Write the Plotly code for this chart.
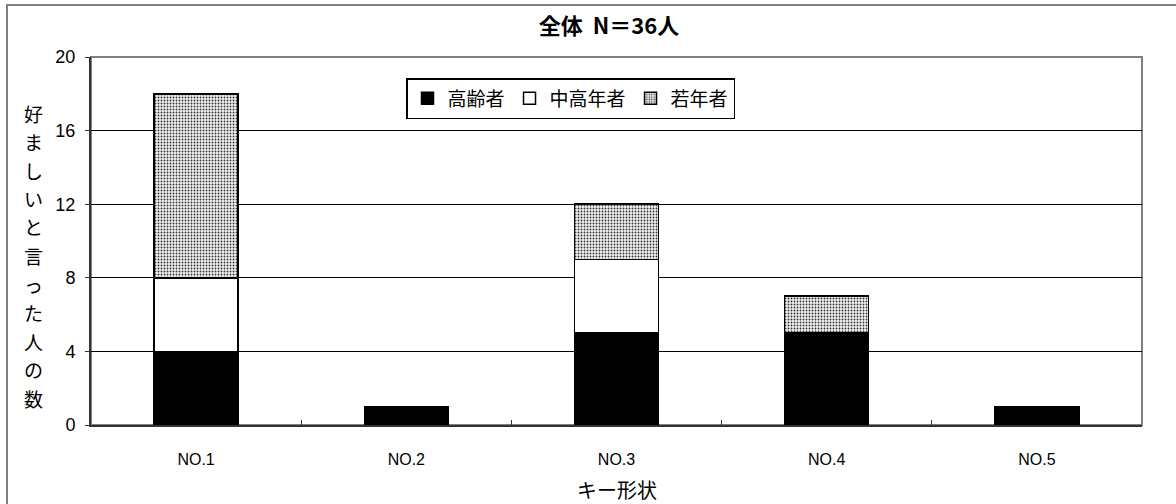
import plotly.graph_objects as go

# Data: number of people who preferred each key shape, by age group
categories = ["NO.1", "NO.2", "NO.3", "NO.4", "NO.5"]
elderly = [4, 1, 5, 5, 1]        # 高齢者
middle_aged = [4, 0, 4, 0, 0]    # 中高年者
young = [10, 0, 3, 2, 0]         # 若年者
y_ticks = [0, 4, 8, 12, 16, 20]

title_text = "全体&nbsp;&nbsp;N＝36人"
x_title = "キー形状"
y_title = "好ましいと言った人の数"

FONT = "Noto Sans CJK JP"

fig = go.Figure()
fig.add_trace(go.Bar(
    x=categories, y=elderly, name="高齢者",
    marker=dict(color="black", line=dict(color="black", width=1.5)),
))
fig.add_trace(go.Bar(
    x=categories, y=middle_aged, name="中高年者",
    marker=dict(color="white", line=dict(color="black", width=1.5)),
))
fig.add_trace(go.Bar(
    x=categories, y=young, name="若年者",
    marker=dict(
        color="white",
        line=dict(color="black", width=1.5),
        pattern=dict(shape=".", size=3, solidity=0.3,
                     fgcolor="#333333", bgcolor="#f2f2f2", fillmode="replace"),
    ),
))

W, H = 1176, 504
L, R, T, B = 91, 34, 57, 79
pw, ph = W - L - R, H - T - B

def px_x(p):
    return (p - L) / pw

def px_y(p):
    return 1 - (p - T) / ph

shapes = [
    # outer chart frame
    dict(type="rect", xref="paper", yref="paper",
         x0=px_x(7), x1=px_x(1200), y0=px_y(530), y1=px_y(5),
         line=dict(color="#808080", width=2), fillcolor="rgba(0,0,0,0)", layer="below"),
    # plot area frame
    dict(type="rect", xref="paper", yref="paper", x0=0, x1=1, y0=0, y1=1,
         line=dict(color="#808080", width=2), fillcolor="rgba(0,0,0,0)", layer="below"),
]

# vertical y-axis title, one character per row
annotations = []
chars = list(y_title)
top_px, bot_px = 113, 398
step = (bot_px - top_px) / (len(chars) - 1)
for i, ch in enumerate(chars):
    annotations.append(dict(
        text=ch, xref="paper", yref="paper",
        x=px_x(33), y=px_y(top_px + i * step),
        showarrow=False, xanchor="center", yanchor="middle",
        font=dict(family=FONT, size=19, color="black"),
    ))

# x-axis title
annotations.append(dict(
    text=x_title, xref="paper", yref="paper",
    x=px_x(617), y=px_y(489), showarrow=False,
    xanchor="center", yanchor="middle",
    font=dict(family=FONT, size=20, color="black"),
))

fig.update_layout(
    width=W, height=H,
    margin=dict(l=L, r=R, t=T, b=B),
    barmode="stack",
    bargap=0.6,
    paper_bgcolor="white",
    plot_bgcolor="white",
    font=dict(family=FONT, color="black"),
    title=dict(text="<b>" + title_text + "</b>", xref="container", x=609 / W,
               xanchor="center", y=1 - 26 / H, yanchor="middle",
               font=dict(family=FONT, size=22, color="black")),
    showlegend=True,
    legend=dict(
        orientation="h", x=px_x(406), y=px_y(78), xanchor="left", yanchor="top",
        bordercolor="black", borderwidth=1.5, bgcolor="white",
        font=dict(family=FONT, size=19, color="black"),
        traceorder="normal", itemwidth=30,
    ),
    xaxis=dict(
        showline=True, linecolor="#333333", linewidth=2,
        ticks="inside", tickson="boundaries", ticklen=5, tickcolor="#333333",
        tickfont=dict(family="Liberation Sans", size=16, color="black"),
        ticklabelstandoff=19,
        showgrid=False,
    ),
    yaxis=dict(
        range=[0, 20], tickvals=y_ticks,
        showline=True, linecolor="#333333", linewidth=2,
        ticks="outside", ticklen=4, tickcolor="#333333",
        tickfont=dict(family="Liberation Sans", size=18, color="black"),
        ticklabelstandoff=6,
        showgrid=True, gridcolor="black", gridwidth=1,
        zeroline=False,
    ),
    shapes=shapes,
    annotations=annotations,
)

fig.write_html("out.html")
